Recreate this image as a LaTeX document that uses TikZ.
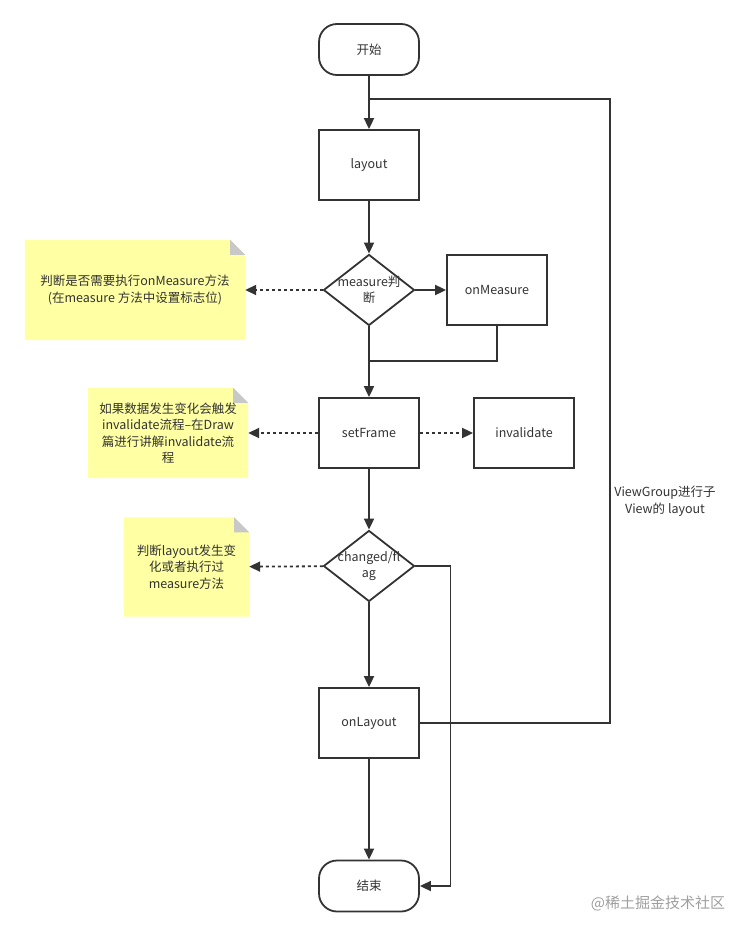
\documentclass[tikz,border=0pt]{standalone}
\usepackage{fontspec}
\setmainfont{Noto Sans CJK SC}
\usetikzlibrary{shapes.geometric,arrows.meta,backgrounds}
\definecolor{linegray}{HTML}{333333}
\definecolor{noteyellow}{HTML}{FFFFA3}
\definecolor{foldgray}{HTML}{C8C8C8}

\begin{document}
\begin{tikzpicture}[x=1pt,y=-1pt]
        \tikzstyle{every node}=[font=\fontsize{12.5}{16.5}\selectfont, text=linegray]
        \tikzstyle{terminal}=[draw=linegray, line width=1.8pt, rounded corners=18pt, minimum width=100pt, minimum height=51pt]
        \tikzstyle{process}=[draw=linegray, line width=1.8pt, minimum width=100pt, minimum height=70pt]
        \tikzstyle{decision}=[draw=linegray, line width=1.8pt, diamond, aspect=1.28, minimum width=91pt, minimum height=71pt, inner xsep=-12pt, inner ysep=-4pt, align=center]
        \tikzstyle{note}=[align=center, inner sep=0pt]
        \tikzstyle{link}=[draw=linegray, line width=1.8pt]
        \tikzstyle{flow}=[link, -{Triangle[length=11pt,width=10pt]}]
        \tikzstyle{hint}=[flow, dash pattern=on 3pt off 3pt]

        \useasboundingbox (0,0) rectangle (754,936);

        % main column
        \node[terminal] (start) at (369,49.5) {开始};
        \node[process] (layout) at (369,165) {layout};
        \node[decision] (measure) at (369,290) {measure判\\断};
        \node[process] (onmeasure) at (497,290) {onMeasure};
        \node[process] (setframe) at (369,433) {setFrame};
        \node[process] (invalidate) at (524,433) {invalidate};
        \node[decision] (changed) at (369,566) {changed/fl\\ag};
        \node[process] (onlayout) at (369,723) {onLayout};
        \node[terminal] (end) at (369,886) {结束};

        % notes
        \node[note, minimum width=220pt, minimum height=100pt] (notemeasure) at (135,290)
            {判断是否需要执行onMeasure方法\\(在measure 方法中设置标志位)};
        \node[note, minimum width=160pt, minimum height=90pt] (noteframe) at (168,433)
            {如果数据发生变化会触发\\invalidate流程--在Draw\\篇进行讲解invalidate流\\程};
        \node[note, minimum width=125pt, minimum height=99pt] (notechanged) at (186.5,567)
            {判断layout发生变\\化或者执行过\\measure方法};

        \begin{scope}[on background layer]
            \foreach \n in {notemeasure, noteframe, notechanged} {
                \fill[noteyellow] (\n.north west) -- ([xshift=-15pt]\n.north east)
                    -- ([yshift=-15pt]\n.north east) -- (\n.south east) -- (\n.south west) -- cycle;
                \fill[foldgray] ([xshift=-15pt]\n.north east) -- ([xshift=-15pt,yshift=-15pt]\n.north east)
                    -- ([yshift=-15pt]\n.north east) -- cycle;
            }
        \end{scope}

        \node[align=center] (looplabel) at (665,501) {ViewGroup进行子\\View的 layout};
        \node[text=gray!75, font=\fontsize{15}{18}\selectfont] (mark) at (658,903) {@稀土掘金技术社区};

        % connectors
        \coordinate (mjoin) at (369,361);
        \coordinate (loop) at (610,99);

        \draw[flow] (start) -- (layout);
        \draw[flow] (layout) -- (measure);
        \draw[flow] (measure) -- (onmeasure);
        \draw[hint] (measure) -- (notemeasure);
        \draw[flow] (measure) -- (setframe);
        \draw[link] (onmeasure.south) |- (mjoin);
        \draw[hint] (setframe) -- (noteframe);
        \draw[hint] (setframe) -- (invalidate);
        \draw[flow] (setframe) -- (changed);
        \draw[hint] (changed) -- (notechanged);
        \draw[flow] (changed) -- (onlayout);
        \draw[flow] (onlayout) -- (end);
        \draw[link] (onlayout.east) -| (loop) -- (layout.north |- loop);
        \draw[flow] (changed.east) -- ++(35,0) |- (end.east);
\end{tikzpicture}
\end{document}
